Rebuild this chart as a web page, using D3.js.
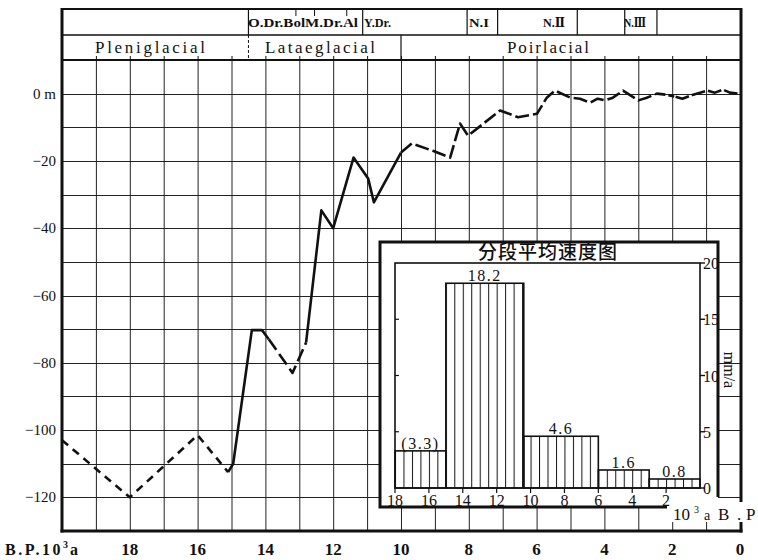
<!DOCTYPE html>
<html>
<head>
<meta charset="utf-8">
<script src="https://cdn.jsdelivr.net/npm/d3@7/dist/d3.min.js"></script>
<style>
  html, body { margin: 0; padding: 0; background: #fff; }
  svg { display: block; }
  text { fill: #111; }
</style>
</head>
<body>
<svg id="chart" width="758" height="560"></svg>
<script>
// Sea-level curve: age (10^3 a B.P.) and relative sea level (m)
const ageKa = [20, 18, 16, 15.1, 14.95, 14.4, 14.1, 13.9, 13.2, 12.8, 12.35, 12.0, 11.4, 10.97, 10.8,
  10.0, 9.68, 9.06, 8.55, 8.26, 8.02, 7.08, 6.55, 5.99, 5.7, 5.46, 5.0, 4.72, 4.42, 4.2, 3.98, 3.75,
  3.45, 3.0, 2.75, 2.45, 2.2, 1.9, 1.7, 1.38, 0.97, 0.74, 0.5, 0.3, 0.06];
const seaLevel = [-103, -120, -101.5, -112.5, -110, -70.3, -70.3, -73, -83, -74, -34.7, -40, -19, -25.2, -32.3,
  -17.5, -14.8, -17, -19, -8.9, -12.5, -5, -7, -6, -1.2, 0.9, -1.2, -1.5, -2.7, -1.5, -2, -1.2,
  0.9, -2, -1.2, 0, -0.3, -0.9, -1.5, -0.3, 0.9, 0.3, 1.2, 0.3, 0];

// Axis ticks of the main chart
const xTicks = [18, 16, 14, 12, 10, 8, 6, 4, 2, 0];
const yTicks = [0, -20, -40, -60, -80, -100, -120];

// Period bands in the header
const periodNames = ["Pleniglacial", "Lataeglacial", "Poirlacial"];
const periodBounds = [20, 14.5, 10, 0];
const stageNames = ["O.Dr.BolM.Dr.Al", "Y.Dr.", "N.I", "N.\u2161", "N.\u2162"];

// Inset: average rise rate per interval (mm/a)
const rateStartKa = [18, 15, 10.4, 6, 3];
const rateEndKa = [15, 10.4, 6, 3, 0];
const rateValue = [3.3, 18.2, 4.6, 1.6, 0.8];
const rateLabel = ["(3.3)", "18.2", "4.6", "1.6", "0.8"];
const insetXTicks = [18, 16, 14, 12, 10, 8, 6, 4, 2];
const insetYTicks = [0, 5, 10, 15, 20];

const svg = d3.select("#chart");
const SERIF = "'Liberation Serif', 'DejaVu Serif', serif";
const INK = "#111";

const x = d3.scaleLinear().domain([20, 0]).range([62, 740]);
const y = d3.scaleLinear().domain([-130, 10]).range([531, 60]);

// ---- grid ----
const grid = svg.append("g").attr("stroke", "#222").attr("stroke-width", 1);
grid.selectAll("line.v").data(d3.range(19, 0, -1)).join("line")
  .attr("x1", d => x(d) + 0.5).attr("x2", d => x(d) + 0.5)
  .attr("y1", y(10)).attr("y2", y(-130));
grid.selectAll("line.h").data(d3.range(-120, 10, 10)).join("line")
  .attr("x1", x(20)).attr("x2", x(0))
  .attr("y1", d => Math.round(y(d)) + 0.5).attr("y2", d => Math.round(y(d)) + 0.5);

// ---- header bands ----
const hTop = 9, hMid = 35, hBot = 60;
const head = svg.append("g").attr("stroke", INK).attr("fill", "none");
head.append("line").attr("x1", x(20)).attr("x2", x(0) + 1).attr("y1", hTop).attr("y2", hTop).attr("stroke-width", 2);
head.append("line").attr("x1", x(20)).attr("x2", x(0)).attr("y1", hMid).attr("y2", hMid).attr("stroke-width", 1.5);
head.append("line").attr("x1", x(20)).attr("x2", x(0)).attr("y1", hBot).attr("y2", hBot).attr("stroke-width", 2);
// row 1 cell dividers (stage boundaries)
const stageLines = [14.5, 11.13, 8.05, 7.15, 4.8, 3.4, 2.45];
head.selectAll("line.s").data(stageLines).join("line")
  .attr("x1", d => x(d)).attr("x2", d => x(d)).attr("y1", hTop).attr("y2", hMid).attr("stroke-width", 1.2);
// short marks between the late-glacial stages
const stageMarks = [13.1, 12.55, 11.6];
head.selectAll("line.m").data(stageMarks).join("line")
  .attr("x1", d => x(d)).attr("x2", d => x(d)).attr("y1", hTop).attr("y2", hTop + 7).attr("stroke-width", 1);
// row 2 dividers
head.append("line").attr("x1", x(periodBounds[1])).attr("x2", x(periodBounds[1]))
  .attr("y1", hMid).attr("y2", hBot).attr("stroke-width", 1).attr("stroke-dasharray", "3,2");
head.append("line").attr("x1", x(periodBounds[2])).attr("x2", x(periodBounds[2]))
  .attr("y1", hMid).attr("y2", hBot).attr("stroke-width", 1.2);
// grid marks rising into the lower header row
head.selectAll("line.g").data(d3.range(19, 0, -1)).join("line")
  .attr("x1", d => x(d) + 0.5).attr("x2", d => x(d) + 0.5).attr("y1", hBot - 4).attr("y2", hBot)
  .attr("stroke-width", 1);

const stageX = [248, 364, 469, 543, 624];
const stageW = [110, 27, 20, 22, 22];
svg.append("g").selectAll("text").data(stageNames).join("text")
  .attr("x", (d, i) => stageX[i]).attr("y", 27)
  .attr("font-family", SERIF).attr("font-size", 13).attr("font-weight", "bold")
  .attr("textLength", (d, i) => stageW[i]).attr("lengthAdjust", "spacingAndGlyphs")
  .text(d => d);

const periodX = [95, 265, 507];
const periodW = [110, 110, 82];
svg.append("g").selectAll("text").data(periodNames).join("text")
  .attr("x", (d, i) => periodX[i]).attr("y", 53)
  .attr("font-family", SERIF).attr("font-size", 17)
  .attr("textLength", (d, i) => periodW[i]).attr("lengthAdjust", "spacing")
  .text(d => d);

// ---- frame ----
const frame = svg.append("g").attr("stroke", INK).attr("fill", "none");
frame.append("line").attr("x1", x(20)).attr("x2", x(20)).attr("y1", hTop - 1).attr("y2", y(-130) + 1.5).attr("stroke-width", 3);
frame.append("line").attr("x1", x(0) + 1).attr("x2", x(0) + 1).attr("y1", hTop - 1).attr("y2", y(-130) + 1.5).attr("stroke-width", 3);
frame.append("line").attr("x1", x(20) - 1.5).attr("x2", x(0) + 2.5).attr("y1", y(-130)).attr("y2", y(-130)).attr("stroke-width", 3);

// ---- axes labels ----
svg.append("g").selectAll("text").data(yTicks).join("text")
  .attr("x", 56).attr("y", d => y(d) + 5)
  .attr("text-anchor", "end")
  .attr("font-family", SERIF).attr("font-size", 15)
  .text(d => d === 0 ? "0 m" : "\u2212" + Math.abs(d));

svg.append("g").selectAll("text").data(xTicks).join("text")
  .attr("x", d => x(d)).attr("y", 555)
  .attr("text-anchor", "middle")
  .attr("font-family", SERIF).attr("font-size", 17).attr("font-weight", "bold")
  .text(d => d);
const bp = svg.append("text").attr("x", 5).attr("y", 555)
  .attr("font-family", SERIF).attr("font-size", 16).attr("font-weight", "bold");
bp.append("tspan").attr("letter-spacing", 2.5).text("B.P.10");
bp.append("tspan").attr("font-size", 10).attr("dy", -7).text("3");
bp.append("tspan").attr("dy", 7).attr("dx", 2).text("a");

// ---- sea-level curve ----
const pts = ageKa.map((a, i) => [a, seaLevel[i]]);
const line = d3.line().x(d => x(d[0])).y(d => y(d[1]));
// runs of the curve drawn with different strokes
const runs = [
  { from: 0, to: 3, dash: "8,6" },
  { from: 3, to: 7, dash: null },
  { from: 7, to: 9, dash: "13,5" },
  { from: 9, to: 15, dash: null },
  { from: 15, to: 36, dash: "14,4" },
  { from: 36, to: 37, dash: "0,3,6,3" },
  { from: 37, to: ageKa.length - 1, dash: "14,3" }
];
svg.append("g").selectAll("path").data(runs).join("path")
  .attr("d", r => line(pts.slice(r.from, r.to + 1)))
  .attr("fill", "none").attr("stroke", INK).attr("stroke-width", 2.6)
  .attr("stroke-linejoin", "round")
  .attr("stroke-dasharray", r => r.dash);

// ---- inset: average rate chart ----
const ix = d3.scaleLinear().domain([18, 0]).range([395, 700]);
const iy = d3.scaleLinear().domain([0, 20]).range([488, 263]);
const inset = svg.append("g");

inset.append("rect").attr("x", 380).attr("y", 242).attr("width", 338).attr("height", 265).attr("fill", "#fff");
inset.append("rect").attr("x", 668).attr("y", 502).attr("width", 90).attr("height", 20).attr("fill", "#fff");

const defs = svg.append("defs");
const pat = defs.append("pattern").attr("id", "vhatch").attr("patternUnits", "userSpaceOnUse")
  .attr("x", ix(18)).attr("y", 0).attr("width", (ix(0) - ix(18)) / 36).attr("height", 10);
pat.append("line").attr("x1", 0.5).attr("x2", 0.5).attr("y1", 0).attr("y2", 10)
  .attr("stroke", INK).attr("stroke-width", 1);

inset.append("g").selectAll("rect").data(rateValue).join("rect")
  .attr("x", (d, i) => ix(rateStartKa[i]))
  .attr("width", (d, i) => ix(rateEndKa[i]) - ix(rateStartKa[i]))
  .attr("y", d => iy(d))
  .attr("height", d => iy(0) - iy(d))
  .attr("fill", "url(#vhatch)").attr("stroke", INK).attr("stroke-width", 1.6);

inset.append("g").selectAll("text").data(rateValue).join("text")
  .attr("x", (d, i) => (ix(rateStartKa[i]) + ix(rateEndKa[i])) / 2)
  .attr("y", d => iy(d) - 2)
  .attr("text-anchor", "middle")
  .attr("font-family", SERIF).attr("font-size", 16).attr("letter-spacing", 1.5)
  .text((d, i) => rateLabel[i]);

// inner plot frame
inset.append("rect").attr("x", ix(18)).attr("y", iy(20)).attr("width", ix(0) - ix(18)).attr("height", iy(0) - iy(20))
  .attr("fill", "none").attr("stroke", INK).attr("stroke-width", 1.6);

// right value axis
inset.append("g").selectAll("line").data(insetYTicks).join("line")
  .attr("x1", ix(0)).attr("x2", ix(0) + 5).attr("y1", d => iy(d)).attr("y2", d => iy(d))
  .attr("stroke", INK).attr("stroke-width", 1.4);
inset.append("g").selectAll("line").data([5, 10, 15]).join("line")
  .attr("x1", ix(18)).attr("x2", ix(18) + 4).attr("y1", d => iy(d)).attr("y2", d => iy(d))
  .attr("stroke", INK).attr("stroke-width", 1.2);
inset.append("g").selectAll("text").data(insetYTicks).join("text")
  .attr("x", ix(0) + 3).attr("y", d => iy(d) + 6)
  .attr("font-family", SERIF).attr("font-size", 16)
  .text(d => d);

// bottom age axis
inset.append("g").selectAll("line").data(insetXTicks).join("line")
  .attr("x1", d => ix(d)).attr("x2", d => ix(d)).attr("y1", iy(0)).attr("y2", iy(0) + 5)
  .attr("stroke", INK).attr("stroke-width", 1.2);
inset.append("g").selectAll("text").data(insetXTicks).join("text")
  .attr("x", d => ix(d)).attr("y", 506)
  .attr("text-anchor", "middle")
  .attr("font-family", SERIF).attr("font-size", 16)
  .text(d => d);

// outer frame
const of = inset.append("g").attr("stroke", INK).attr("stroke-width", 3).attr("fill", "none");
of.append("path").attr("d", "M718,497 L718,242 L380,242 L380,507 L667,507");

// title
inset.append("text").attr("x", 548).attr("y", 259).attr("text-anchor", "middle")
  .attr("font-family", "'Noto Sans CJK SC', sans-serif").attr("font-size", 19).attr("font-weight", 500)
  .attr("letter-spacing", 1)
  .text("分段平均速度图");

// unit label
inset.append("text").attr("transform", "translate(724,370) rotate(90)")
  .attr("text-anchor", "middle")
  .attr("font-family", SERIF).attr("font-size", 16)
  .text("mm/a");

// age unit label at the lower right
const unitParts = [
  { t: "10", x: 673, dy: 0, size: 17 },
  { t: "3", x: 694, dy: -7, size: 10 },
  { t: "a", x: 704, dy: 0, size: 14 },
  { t: "B", x: 718, dy: 0, size: 17 },
  { t: ".", x: 737, dy: 0, size: 17 },
  { t: "P", x: 746, dy: 0, size: 17 }
];
inset.append("g").selectAll("text").data(unitParts).join("text")
  .attr("x", d => d.x).attr("y", d => 520 + d.dy)
  .attr("font-family", SERIF).attr("font-size", d => d.size)
  .text(d => d.t);
</script>
</body>
</html>
